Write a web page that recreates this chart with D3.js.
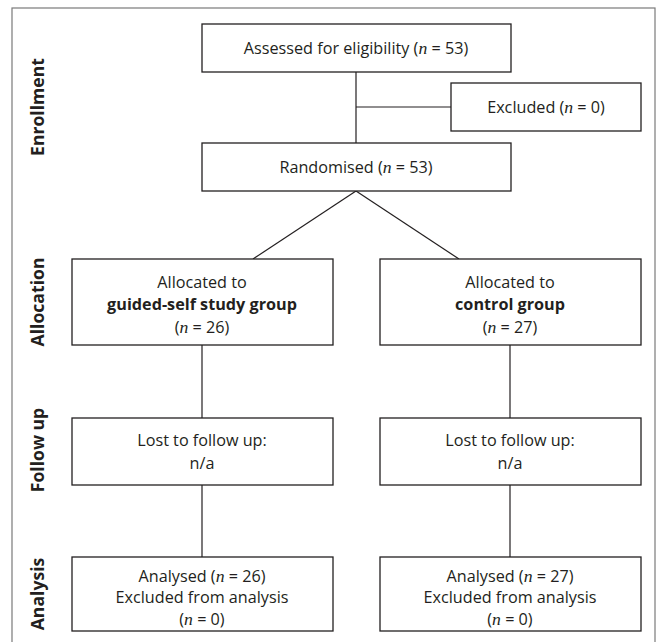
<!DOCTYPE html>
<html><head><meta charset="utf-8">
<script src="https://cdn.jsdelivr.net/npm/d3@7"></script>
<style>body{margin:0;background:#fff}text{font-family:"Open Sans",sans-serif;fill:#231f20}</style>
</head><body><svg id="c" width="660" height="642"></svg>
<script>
// ---- data ----
const stages = ["Enrollment", "Allocation", "Follow up", "Analysis"];
const groups = ["guided-self study group", "control group"];
const assessedN = 53;
const excludedN = 0;
const randomisedN = 53;
const allocatedN = [26, 27];
const lostLabel = ["n/a", "n/a"];
const analysedN = [26, 27];
const excludedAnalysisN = [0, 0];

const svg = d3.select("#c");
const ink = "#231f20";
const FS = 16.2;

// scales for layout
const col = d3.scaleOrdinal().domain(["left","mid","right"]).range([202, 356, 510]);
const stageY = d3.scaleOrdinal().domain(stages).range([107, 302, 450, 594]);

// frame
svg.append("rect").attr("x",12).attr("y",8).attr("width",643).attr("height",650)
  .attr("fill","none").attr("stroke","#7a7a7a").attr("stroke-width",1.2);

// stage labels
svg.selectAll("text.stage").data(stages).enter().append("text").attr("class","stage")
  .attr("transform", d => `translate(37,${stageY(d)}) rotate(-90)`)
  .attr("text-anchor","middle").attr("dominant-baseline","central")
  .attr("font-weight","bold").attr("font-size",17.6).text(d=>d);

function box(x0,y0,x1,y1){
  svg.append("rect").attr("x",x0).attr("y",y0).attr("width",x1-x0).attr("height",y1-y0)
    .attr("fill","#fff").attr("stroke",ink).attr("stroke-width",1.3);
}
function line(x0,y0,x1,y1){
  svg.append("line").attr("x1",x0).attr("y1",y0).attr("x2",x1).attr("y2",y1)
    .attr("stroke",ink).attr("stroke-width",1.2);
}
// parts: array of [text, style]  style: "", "b", "n"
function txt(cx,cy,parts){
  const t = svg.append("text").attr("x",cx).attr("y",cy).attr("text-anchor","middle")
    .attr("dominant-baseline","central").attr("font-size",FS);
  parts.forEach(p=>{
    const s = t.append("tspan").text(p[0]);
    if(p[1]==="b") s.attr("font-weight","bold");
    if(p[1]==="n") s.attr("font-family","'Liberation Serif',serif").attr("font-style","italic").attr("font-size",FS+1.5);
  });
}
const nParts = (pre, v, post) => [[pre,""],["n","n"],[" = "+v+post,""]];

// connectors
line(col("mid"),72,col("mid"),143);
line(col("mid"),107,451,107);
line(col("mid"),191,253,259);
line(col("mid"),191,459,259);
[0,1].forEach(i=>{
  const cx = i===0?col("left"):col("right");
  line(cx,345,cx,418);
  line(cx,485,cx,557);
});

// enrollment boxes
box(202,24,511,72);
txt(col("mid"),48,nParts("Assessed for eligibility (",assessedN,")"));
box(451,83,641,131);
txt(546,107,nParts("Excluded (",excludedN,")"));
box(202,143,511,191);
txt(col("mid"),167,nParts("Randomised (",randomisedN,")"));

// group boxes
const xr = [[72,333],[380,641]];
groups.forEach((g,i)=>{
  const cx = i===0?col("left"):col("right");
  box(xr[i][0],259,xr[i][1],345);
  txt(cx,282,[["Allocated to",""]]);
  txt(cx,304,[[g,"b"]]);
  txt(cx,327,nParts("(",allocatedN[i],")"));
  box(xr[i][0],418,xr[i][1],485);
  txt(cx,440,[["Lost to follow up:",""]]);
  txt(cx,463,[[lostLabel[i],""]]);
  box(xr[i][0],557,xr[i][1],631);
  txt(cx,576,nParts("Analysed (",analysedN[i],")"));
  txt(cx,597,[["Excluded from analysis",""]]);
  txt(cx,619,nParts("(",excludedAnalysisN[i],")"));
});
</script></body></html>
